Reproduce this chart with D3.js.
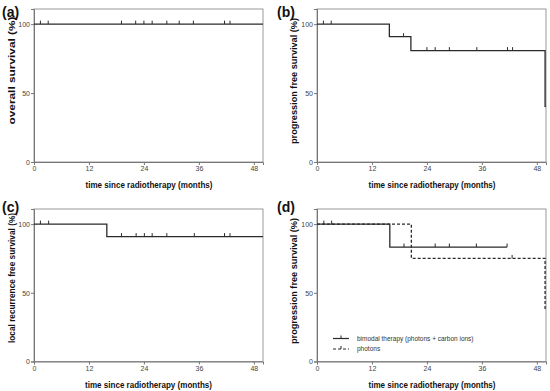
<!DOCTYPE html>
<html><head><meta charset="utf-8">
<script src="https://cdn.jsdelivr.net/npm/d3@7"></script>
<style>body{margin:0;background:#fff}svg{display:block}text{font-family:Arial,"Liberation Sans",sans-serif}</style>
</head><body>
<svg id="c" width="550" height="391"></svg>
<script>
// Kaplan-Meier steps: [time (months), survival %]
const osSteps = [[0,100],[50,100]];
const osCensor = [1.4,3.1,19.1,22.2,24.0,25.8,29.0,31.7,34.8,41.6,42.8];

const pfsSteps = [[0,100],[15.8,90.9],[20.5,80.8],[49.8,40.4],[50,40.4]];
const pfsCensor = [1.4,3.1,18.9,24.0,25.8,28.9,34.9,41.6,42.7];

const lrfsSteps = [[0,100],[15.9,90.9],[50,90.9]];
const lrfsCensor = [1.4,3.2,19.1,22.3,24.1,25.8,29.0,35.0,41.6,42.8];

const bimodalSteps = [[0,100],[15.9,83.3],[41.5,83.3]];
const bimodalCensor = [1.5,3.2,19.0,25.8,28.9,34.8,41.5];

const photonSteps = [[0,100],[20.6,75],[49.8,37.5],[50,37.5]];
const photonCensor = [42.6];

const xTicks = [0,12,24,36,48];
const yTicks = [0,50,100];
const xTitle = "time since radiotherapy (months)";
const legendLabels = ["bimodal therapy (photons + carbon ions)", "photons"];

const svg = d3.select("#c");

function survAt(steps, t){
  let v = steps[0][1];
  for (const s of steps) if (s[0] <= t) v = s[1];
  return v;
}

const panels = [
  {label:"(a)", lx:2, ly:17, left:34, top:9, bottom:162, ytitle:"overall survival (%)", ytx:11, yty:70.5, ylen:108, xtx:149, xty:187.5,
   series:[{steps:osSteps, censor:osCensor, dash:null}]},
  {label:"(b)", lx:277, ly:17, left:317, top:9, bottom:162, ytitle:"progression free survival (%)", ytx:293, yty:81, ylen:126, xtx:432, xty:187.5,
   series:[{steps:pfsSteps, censor:pfsCensor, dash:null}]},
  {label:"(c)", lx:2, ly:212, left:34, top:209, bottom:361.5, ytitle:"local recurrence free survival (%)", ytx:11, yty:278, ylen:130, xtx:148.5, xty:387.5,
   series:[{steps:lrfsSteps, censor:lrfsCensor, dash:null}]},
  {label:"(d)", lx:277, ly:212, left:317, top:209, bottom:361.5, ytitle:"progression free survival (%)", ytx:293, yty:281, ylen:126, xtx:432, xty:387.5,
   series:[{steps:photonSteps, censor:photonCensor, dash:"3,2"},{steps:bimodalSteps, censor:bimodalCensor, dash:null}], legend:true}
];

panels.forEach(p => {
  const width = 229;
  const x = d3.scaleLinear().domain([0,50]).range([p.left, p.left+width]);
  const y = d3.scaleLinear().domain([0,111]).range([p.bottom, p.top]);
  const g = svg.append("g");

  // frame
  g.append("rect").attr("x", p.left).attr("y", p.top).attr("width", width).attr("height", p.bottom-p.top)
    .attr("fill","none").attr("stroke","#9a9a9a").attr("stroke-width",1);

  // axes
  const ax = g.append("g").attr("transform",`translate(0,${p.bottom})`)
    .call(d3.axisBottom(x).tickValues(xTicks).tickSize(3).tickPadding(1.5));
  const ay = g.append("g").attr("transform",`translate(${p.left},0)`)
    .call(d3.axisLeft(y).tickValues(yTicks).tickSize(3).tickPadding(1));
  [ax,ay].forEach(a => {
    a.select(".domain").attr("stroke","#777");
    a.selectAll(".tick line").attr("stroke","#777");
    a.selectAll(".tick text").attr("fill","#444").style("font-size","7px").style("font-family","Arial, 'Liberation Sans', sans-serif");
  });

  // data
  p.series.forEach(s => {
    const line = d3.line().x(d=>x(d[0])).y(d=>y(d[1])).curve(d3.curveStepAfter);
    g.append("path").datum(s.steps).attr("d", line).attr("fill","none")
      .attr("stroke","#2a2a2a").attr("stroke-width",1.3)
      .attr("stroke-dasharray", s.dash);
    g.selectAll(null).data(s.censor).enter().append("line")
      .attr("x1", d=>x(d)).attr("x2", d=>x(d))
      .attr("y1", d=>y(survAt(s.steps,d))).attr("y2", d=>y(survAt(s.steps,d))-3.5)
      .attr("stroke","#2a2a2a").attr("stroke-width",1);
  });

  // legend
  if (p.legend) {
    const items = [{dash:null, yy:338.5},{dash:"3,2", yy:349}];
    items.forEach((it,i) => {
      g.append("line").attr("x1",333).attr("x2",349).attr("y1",it.yy).attr("y2",it.yy)
        .attr("stroke","#2a2a2a").attr("stroke-width",1.2).attr("stroke-dasharray",it.dash);
      g.append("line").attr("x1",341).attr("x2",341).attr("y1",it.yy).attr("y2",it.yy-3)
        .attr("stroke","#2a2a2a").attr("stroke-width",1);
      g.append("text").attr("x",357).attr("y",it.yy+2.3).attr("fill","#333")
        .style("font-size","6.5px").text(legendLabels[i]);
    });
  }

  // titles
  g.append("text").attr("x",p.xtx).attr("y",p.xty).attr("text-anchor","middle")
    .attr("textLength",127).attr("lengthAdjust","spacingAndGlyphs")
    .style("font-size","9.5px").style("font-weight","bold").attr("fill","#111").text(xTitle);
  g.append("text").attr("transform",`translate(${p.ytx+3.5},${p.yty}) rotate(-90)`).attr("text-anchor","middle")
    .attr("textLength",p.ylen).attr("lengthAdjust","spacingAndGlyphs")
    .style("font-size","9.5px").style("font-weight","bold").attr("fill","#111").text(p.ytitle);
  g.append("text").attr("x",p.lx).attr("y",p.ly).style("font-size","14px").style("font-weight","bold")
    .attr("fill","#111").text(p.label);
});
</script>
</body></html>
